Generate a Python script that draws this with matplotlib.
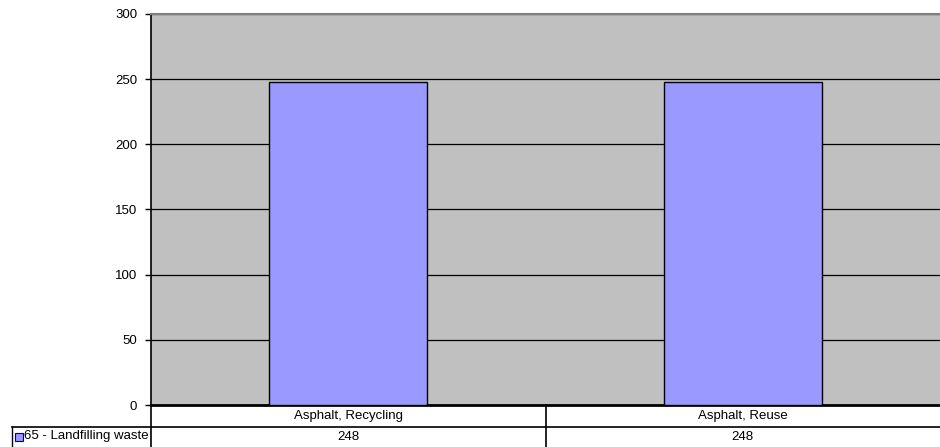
import matplotlib.pyplot as plt
from matplotlib.patches import Rectangle
from matplotlib.transforms import blended_transform_factory

plt.rcParams['font.family'] = ['Liberation Sans', 'DejaVu Sans']

categories = ['Asphalt, Recycling', 'Asphalt, Reuse']
series_name = '65 - Landfilling waste'
values = [248, 248]
yticks = [0, 50, 100, 150, 200, 250, 300]

FS = 9.5
W, H = 940, 447
fig = plt.figure(figsize=(W / 100, H / 100), dpi=100)
left, right, top, bottom = 151, 940, 14, 405
ax = fig.add_axes([left / W, (H - bottom) / H, (right - left) / W, (bottom - top) / H])
ax.set_facecolor('#C0C0C0')

x = list(range(len(categories)))
ax.bar(x, values, width=0.4, color='#9999FF', edgecolor='black', linewidth=1.0, zorder=3)

ax.set_xlim(-0.5, len(categories) - 0.5)
ax.set_ylim(0, 300)
ax.set_yticks(yticks)
ax.set_yticklabels([str(t) for t in yticks], fontsize=FS)
ax.yaxis.grid(True, color='black', linewidth=0.9, zorder=1)
ax.set_axisbelow(True)
ax.tick_params(axis='y', direction='out', length=4, width=1, pad=6)
ax.set_xticks([])

ax.spines['left'].set_color('black')
ax.spines['left'].set_linewidth(1.2)
ax.spines['bottom'].set_color('black')
ax.spines['bottom'].set_linewidth(2)
ax.spines['top'].set_color('#808080')
ax.spines['top'].set_linewidth(1.5)
ax.spines['right'].set_visible(False)

# data table under the plot
ph = bottom - top
pw = right - left
row1 = -(427 - bottom) / ph
row2 = -(446 - bottom) / ph
table_left = -(left - 12) / pw
tr_data = blended_transform_factory(ax.transData, ax.transAxes)

ax.plot([table_left, 1], [row1, row1], transform=ax.transAxes, color='black',
        linewidth=1.2, clip_on=False)
ax.plot([table_left, table_left], [row1, row2 - 0.01], transform=ax.transAxes,
        color='black', linewidth=1, clip_on=False)
ax.plot([0, 0], [0, row2 - 0.01], transform=ax.transAxes, color='black',
        linewidth=1.2, clip_on=False)
for i in range(1, len(categories)):
    ax.plot([i - 0.5, i - 0.5], [0, row2 - 0.01], transform=tr_data,
            color='black', linewidth=1.2, clip_on=False)

for i, (cat, val) in enumerate(zip(categories, values)):
    ax.text(i, row1 / 2, cat, transform=tr_data, ha='center', va='center', fontsize=FS)
    ax.text(i, (row1 + row2) / 2, str(val), transform=tr_data, ha='center',
            va='center', fontsize=FS)

# legend key in the table header cell
sw = 8 / pw
sh = 8 / ph
kx = -(left - 15) / pw
ky = (row1 + row2) / 2 - sh / 2
ax.add_patch(Rectangle((kx, ky), sw, sh, transform=ax.transAxes, facecolor='#9999FF',
                       edgecolor='#000080', linewidth=0.8, clip_on=False))
ax.text(kx + sw + 1 / pw, (row1 + row2) / 2, series_name, transform=ax.transAxes,
        ha='left', va='center', fontsize=FS)

fig.savefig('out.png', dpi=100)
